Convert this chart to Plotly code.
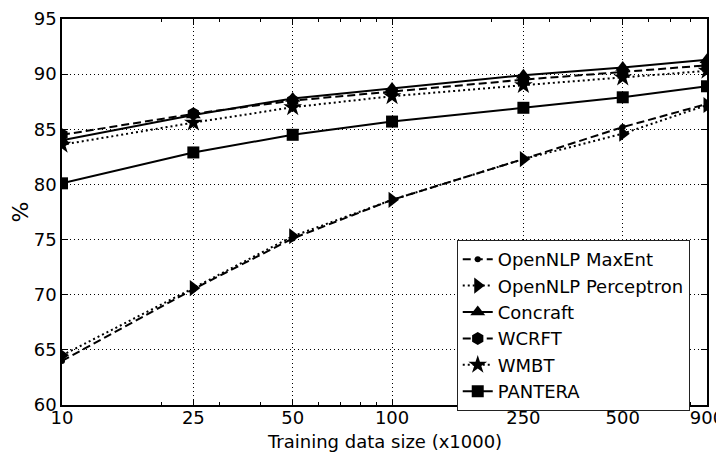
import plotly.graph_objects as go

sizes = [10, 25, 50, 100, 250, 500, 900]
tick_labels = ["10", "25", "50", "100", "250", "500", "900"]

maxent = [64.0, 70.5, 75.1, 78.6, 82.3, 85.2, 87.3]
perceptron = [64.5, 70.6, 75.3, 78.6, 82.3, 84.6, 87.2]
concraft = [84.0, 86.3, 87.8, 88.7, 89.9, 90.6, 91.3]
wcrft = [84.5, 86.4, 87.6, 88.4, 89.5, 90.2, 90.8]
wmbt = [83.6, 85.6, 87.0, 88.0, 89.0, 89.7, 90.3]
pantera = [80.1, 82.9, 84.5, 85.7, 86.95, 87.9, 88.9]

minor_ticks = [20, 30, 40, 60, 70, 80, 90, 200, 300, 400, 600, 700, 800]

series = [
    ("OpenNLP MaxEnt", maxent, "8px,4px", "circle", 6),
    ("OpenNLP Perceptron", perceptron, "2px,3px", "triangle-right", 14),
    ("Concraft", concraft, "solid", "triangle-up", 13),
    ("WCRFT", wcrft, "8px,4px", "hexagon", 13),
    ("WMBT", wmbt, "2px,3px", "star", 14),
    ("PANTERA", pantera, "solid", "square", 12),
]

fig = go.Figure()
for name, vals, dash, sym, ms in series:
    fig.add_trace(go.Scatter(
        x=sizes, y=vals, name=name, mode="lines+markers",
        line=dict(color="black", width=2, dash=dash),
        marker=dict(symbol=sym, size=ms, color="black", line=dict(width=0)),
    ))

# page body has an 8px margin, so the figure is shrunk and margins shifted
font = "DejaVu Sans, sans-serif"
fig.update_layout(
    width=716, height=445,
    margin=dict(l=54, r=17, t=11, b=48),
    paper_bgcolor="white", plot_bgcolor="white",
    font=dict(family=font, size=18, color="black"),
    legend=dict(
        x=0.612, y=0.4275, xanchor="left", yanchor="top",
        bgcolor="white", bordercolor="#222", borderwidth=1,
        font=dict(size=18), tracegroupgap=0,
    ),
    showlegend=True,
    annotations=[dict(
        text="Training data size (x1000)", xref="paper", yref="paper",
        x=0.5, y=-0.0933, xanchor="center", yanchor="middle",
        showarrow=False, font=dict(size=18),
    )],
)
fig.update_xaxes(
    type="log", range=[0.99999, 2.95426], tickmode="array",
    tickvals=sizes, ticktext=tick_labels, automargin=False,
    ticks="inside", ticklen=6, tickcolor="black", tickwidth=1,
    ticklabelstandoff=-4, ticklabeloverflow="allow",
    showline=True, linecolor="black", linewidth=1.5, mirror="allticks",
    showgrid=True, gridcolor="black", griddash="1px,3px", gridwidth=1,
    zeroline=False,
    minor=dict(tickmode="array", tickvals=minor_ticks, ticks="inside",
               ticklen=3, tickcolor="black", showgrid=False),
    tickfont=dict(size=18),
)
fig.update_yaxes(
    range=[60, 95], dtick=5, tick0=60, automargin=False,
    ticks="inside", ticklen=6, tickcolor="black", tickwidth=1,
    showline=True, linecolor="black", linewidth=1.5, mirror="allticks",
    showgrid=True, gridcolor="black", griddash="1px,3px", gridwidth=1,
    zeroline=False,
    title=dict(text="%", standoff=8),
    tickfont=dict(size=18),
)

fig.write_html("out.html")
